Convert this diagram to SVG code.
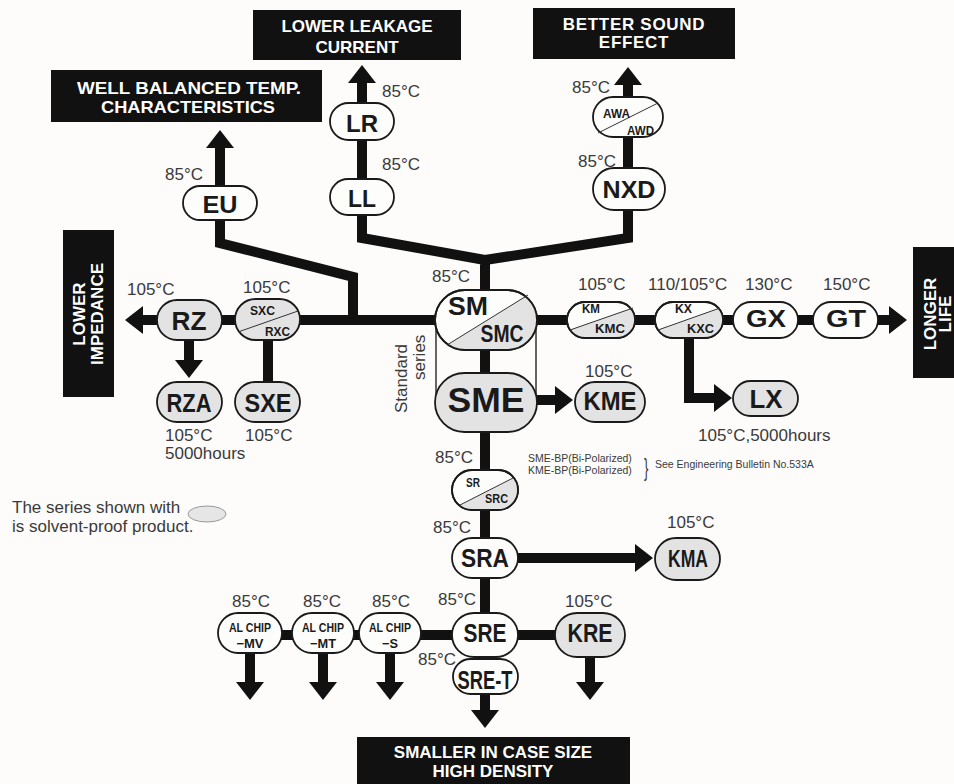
<svg xmlns="http://www.w3.org/2000/svg" width="954" height="784" viewBox="0 0 954 784">
<style>
.bg{fill:#fdfcfa}
.box{fill:#111}
.bt{font-family:"Liberation Sans",Arial,sans-serif;font-weight:bold;font-size:17px;fill:#fff;text-anchor:middle}
.n{fill:#fdfdfb;stroke:#1a1a1a;stroke-width:1.8}
.ng{fill:#e3e3e3;stroke:#1a1a1a;stroke-width:1.8}
.o{fill:none;stroke:#1a1a1a;stroke-width:1.8}
.g{fill:#e3e3e3}
.dg{stroke:#333;stroke-width:1}
.nl{font-family:"Liberation Sans",Arial,sans-serif;font-weight:bold;fill:#1a1a1a;text-anchor:middle}
.sl{font-family:"Liberation Sans",Arial,sans-serif;font-weight:bold;font-size:13px;fill:#1a1a1a}
.t{font-family:"Liberation Sans",Arial,sans-serif;font-size:17px;fill:#3a3a3a}
.s{font-family:"Liberation Sans",Arial,sans-serif;font-size:10.5px;fill:#3a3a3a}
.c{fill:none;stroke:#111;stroke-width:10}
.th{fill:none;stroke:#333;stroke-width:1.5}
</style>
<defs>
<marker id="ah" viewBox="0 0 18 28" markerWidth="18" markerHeight="28" refX="2" refY="14" orient="auto" markerUnits="userSpaceOnUse">
<path d="M0,0 L18,14 L0,28 z" fill="#111"/>
</marker>
<clipPath id="cp-sm"><rect x="435" y="290" width="102" height="60" rx="30"/></clipPath>
<clipPath id="cp-km"><rect x="567" y="302" width="68" height="36" rx="18"/></clipPath>
<clipPath id="cp-kx"><rect x="655" y="302" width="68" height="36" rx="18"/></clipPath>
<clipPath id="cp-sr"><rect x="452" y="470" width="66" height="40" rx="20"/></clipPath>
</defs>
<rect class="bg" x="0" y="0" width="954" height="784"/>

<g id="boxes">
<g id="box-temp"><rect class="box" x="51" y="70" width="271" height="52"/><text class="bt" x="189" y="94" textLength="224" lengthAdjust="spacingAndGlyphs">WELL BALANCED TEMP.</text><text class="bt" x="188" y="113" textLength="174" lengthAdjust="spacingAndGlyphs">CHARACTERISTICS</text></g>
<g id="box-leak"><rect class="box" x="253" y="10" width="208" height="50"/><text class="bt" x="357" y="32">LOWER LEAKAGE</text><text class="bt" x="357" y="53">CURRENT</text></g>
<g id="box-sound"><rect class="box" x="533" y="8" width="202" height="51"/><text class="bt" x="634" y="30" letter-spacing="0.7">BETTER SOUND</text><text class="bt" x="634" y="48" letter-spacing="0.7">EFFECT</text></g>
<g id="box-imp"><rect class="box" x="63" y="230" width="51" height="167"/><text class="bt" transform="translate(85,314) rotate(-90)">LOWER</text><text class="bt" transform="translate(103,314) rotate(-90)">IMPEDANCE</text></g>
<g id="box-life"><rect class="box" x="913" y="247" width="45" height="131"/><text class="bt" transform="translate(936,314) rotate(-90)">LONGER</text><text class="bt" transform="translate(951,314) rotate(-90)">LIFE</text></g>
<g id="box-small"><rect class="box" x="357" y="737" width="273" height="50"/><text class="bt" x="493" y="758">SMALLER IN CASE SIZE</text><text class="bt" x="493" y="777">HIGH DENSITY</text></g>
</g>

<g id="connectors">
<path class="c" d="M350,320 H141" marker-end="url(#ah)"/>
<path class="c" d="M350,320 H891" marker-end="url(#ah)"/>
<path class="c" d="M220,186 V146" marker-end="url(#ah)"/>
<path class="c" d="M220,220 V243 L353,277 V320"/>
<path class="c" d="M362,179 V81" marker-end="url(#ah)"/>
<path class="c" d="M362,215 V238 L485,260 V290"/>
<path class="c" d="M628,168 V83" marker-end="url(#ah)"/>
<path class="c" d="M628,210 V238 L485,260"/>
<path class="c" d="M189,340 V362" marker-end="url(#ah)"/>
<path class="c" d="M268,340 V382"/>
<path class="c" d="M485,350 V613"/>
<path class="c" d="M485,657 V712" marker-end="url(#ah)"/>
<path class="c" d="M537,400 H557" marker-end="url(#ah)"/>
<path class="c" d="M689,338 V398 H716" marker-end="url(#ah)"/>
<path class="c" d="M518,558 H637" marker-end="url(#ah)"/>
<path class="c" d="M250,635 H590"/>
<path class="c" d="M250,653 V684" marker-end="url(#ah)"/>
<path class="c" d="M323,653 V684" marker-end="url(#ah)"/>
<path class="c" d="M390,653 V684" marker-end="url(#ah)"/>
<path class="c" d="M590,657 V684" marker-end="url(#ah)"/>
<path class="th" d="M436,320 V402 M536,320 V402"/>
</g>

<g id="n-eu"><rect class="n" x="183" y="186" width="74" height="34" rx="17"/><text class="nl" x="220" y="213" font-size="24" textLength="35" lengthAdjust="spacingAndGlyphs">EU</text></g>
<g id="n-lr"><rect class="n" x="330" y="103" width="64" height="37" rx="18.5"/><text class="nl" x="362" y="132" font-size="24" textLength="32" lengthAdjust="spacingAndGlyphs">LR</text></g>
<g id="n-ll"><rect class="n" x="330" y="179" width="64" height="36" rx="18"/><text class="nl" x="362" y="207" font-size="24" textLength="28" lengthAdjust="spacingAndGlyphs">LL</text></g>
<g id="n-awa"><rect class="n" x="593" y="97" width="70" height="40" rx="20"/><line class="dg" x1="598" y1="133" x2="658" y2="103"/><text class="sl" x="603" y="118" textLength="27" lengthAdjust="spacingAndGlyphs">AWA</text><text class="sl" x="627" y="135" textLength="27" lengthAdjust="spacingAndGlyphs">AWD</text></g>
<g id="n-nxd"><rect class="n" x="593" y="168" width="72" height="42" rx="21"/><text class="nl" x="629" y="198" font-size="24" textLength="53" lengthAdjust="spacingAndGlyphs">NXD</text></g>
<g id="n-rz"><rect class="ng" x="157" y="300" width="65" height="40" rx="20"/><text class="nl" x="189" y="330" font-size="26" textLength="35" lengthAdjust="spacingAndGlyphs">RZ</text></g>
<g id="n-sxc"><rect class="ng" x="235" y="299" width="65" height="41" rx="20.5"/><line class="dg" x1="238" y1="332" x2="298" y2="311"/><text class="sl" x="250" y="315" textLength="25" lengthAdjust="spacingAndGlyphs">SXC</text><text class="sl" x="265" y="336" textLength="25" lengthAdjust="spacingAndGlyphs">RXC</text></g>
<g id="n-rza"><rect class="ng" x="157" y="382" width="65" height="40" rx="20"/><text class="nl" x="189" y="412" font-size="25" textLength="45" lengthAdjust="spacingAndGlyphs">RZA</text></g>
<g id="n-sxe"><rect class="ng" x="235" y="382" width="65" height="40" rx="20"/><text class="nl" x="268" y="412" font-size="25" textLength="47" lengthAdjust="spacingAndGlyphs">SXE</text></g>
<g id="n-sm"><rect class="n" x="435" y="290" width="102" height="60" rx="30"/><polygon class="g" clip-path="url(#cp-sm)" points="285,445 690,195 690,445"/><rect class="o" x="435" y="290" width="102" height="60" rx="30"/><line class="dg" x1="447" y1="345" x2="528" y2="295"/><text class="nl" x="468" y="315" font-size="25" textLength="40" lengthAdjust="spacingAndGlyphs">SM</text><text class="nl" x="502" y="342" font-size="23" textLength="43" lengthAdjust="spacingAndGlyphs">SMC</text></g>
<g id="n-sme"><rect class="ng" x="435" y="373" width="102" height="59" rx="29.5"/><text class="nl" x="486" y="412" font-size="35" textLength="77" lengthAdjust="spacingAndGlyphs">SME</text></g>
<g id="n-km"><rect class="n" x="567" y="302" width="68" height="36" rx="18"/><polygon class="g" clip-path="url(#cp-km)" points="444,374 759,264 759,374"/><rect class="o" x="567" y="302" width="68" height="36" rx="18"/><line class="dg" x1="570" y1="330" x2="633" y2="308"/><text class="sl" x="582" y="313" textLength="18" lengthAdjust="spacingAndGlyphs">KM</text><text class="sl" x="595" y="333" textLength="30" lengthAdjust="spacingAndGlyphs">KMC</text></g>
<g id="n-kx"><rect class="n" x="655" y="302" width="68" height="36" rx="18"/><polygon class="g" clip-path="url(#cp-kx)" points="534,374 844,264 844,374"/><rect class="o" x="655" y="302" width="68" height="36" rx="18"/><line class="dg" x1="658" y1="330" x2="720" y2="308"/><text class="sl" x="675" y="313" textLength="17" lengthAdjust="spacingAndGlyphs">KX</text><text class="sl" x="687" y="333" textLength="27" lengthAdjust="spacingAndGlyphs">KXC</text></g>
<g id="n-gx"><rect class="n" x="733" y="302" width="65" height="36" rx="18"/><text class="nl" x="766" y="327" font-size="24" textLength="40" lengthAdjust="spacingAndGlyphs">GX</text></g>
<g id="n-gt"><rect class="n" x="813" y="302" width="65" height="36" rx="18"/><text class="nl" x="846" y="327" font-size="24" textLength="40" lengthAdjust="spacingAndGlyphs">GT</text></g>
<g id="n-kme"><rect class="ng" x="575" y="382" width="70" height="40" rx="20"/><text class="nl" x="610" y="410" font-size="26" textLength="53" lengthAdjust="spacingAndGlyphs">KME</text></g>
<g id="n-lx"><rect class="ng" x="733" y="381" width="65" height="35" rx="17.5"/><text class="nl" x="766" y="408" font-size="26" textLength="33" lengthAdjust="spacingAndGlyphs">LX</text></g>
<g id="n-sr"><rect class="n" x="452" y="470" width="66" height="40" rx="20"/><polygon class="g" clip-path="url(#cp-sr)" points="354,559 619,424 619,559"/><rect class="o" x="452" y="470" width="66" height="40" rx="20"/><line class="dg" x1="460" y1="505" x2="513" y2="478"/><text class="sl" x="466" y="487" textLength="14" lengthAdjust="spacingAndGlyphs">SR</text><text class="sl" x="485" y="503" textLength="23" lengthAdjust="spacingAndGlyphs">SRC</text></g>
<g id="n-sra"><rect class="n" x="452" y="538" width="66" height="40" rx="20"/><text class="nl" x="485" y="567" font-size="25" textLength="48" lengthAdjust="spacingAndGlyphs">SRA</text></g>
<g id="n-kma"><rect class="ng" x="655" y="538" width="65" height="42" rx="21"/><text class="nl" x="688" y="567" font-size="23" textLength="40" lengthAdjust="spacingAndGlyphs">KMA</text></g>
<g id="n-almv"><rect class="n" x="218" y="613" width="64" height="40" rx="20"/><text class="nl" x="250" y="632" font-size="13" textLength="42" lengthAdjust="spacingAndGlyphs">AL CHIP</text><text class="nl" x="250" y="648" font-size="13" textLength="27" lengthAdjust="spacingAndGlyphs">−MV</text></g>
<g id="n-almt"><rect class="n" x="292" y="613" width="62" height="40" rx="20"/><text class="nl" x="323" y="632" font-size="13" textLength="42" lengthAdjust="spacingAndGlyphs">AL CHIP</text><text class="nl" x="323" y="648" font-size="13" textLength="26" lengthAdjust="spacingAndGlyphs">−MT</text></g>
<g id="n-als"><rect class="n" x="359" y="613" width="62" height="40" rx="20"/><text class="nl" x="390" y="632" font-size="13" textLength="42" lengthAdjust="spacingAndGlyphs">AL CHIP</text><text class="nl" x="390" y="648" font-size="13" textLength="16" lengthAdjust="spacingAndGlyphs">−S</text></g>
<g id="n-sre"><rect class="n" x="452" y="613" width="66" height="44" rx="22"/><text class="nl" x="485" y="642" font-size="25" textLength="43" lengthAdjust="spacingAndGlyphs">SRE</text></g>
<g id="n-kre"><rect class="ng" x="555" y="613" width="70" height="44" rx="22"/><text class="nl" x="590" y="642" font-size="25" textLength="45" lengthAdjust="spacingAndGlyphs">KRE</text></g>
<g id="n-sret"><rect class="n" x="453" y="659" width="65" height="35" rx="17.5"/><text class="nl" x="485" y="689" font-size="25" textLength="55" lengthAdjust="spacingAndGlyphs">SRE-T</text></g>

<g id="labels">
<text class="t" x="165" y="180">85°C</text>
<text class="t" x="382" y="97">85°C</text>
<text class="t" x="382" y="170">85°C</text>
<text class="t" x="572" y="93">85°C</text>
<text class="t" x="578" y="167">85°C</text>
<text class="t" x="127" y="295">105°C</text>
<text class="t" x="243" y="293">105°C</text>
<text class="t" x="432" y="282">85°C</text>
<text class="t" x="578" y="290">105°C</text>
<text class="t" x="648" y="290">110/105°C</text>
<text class="t" x="745" y="290">130°C</text>
<text class="t" x="823" y="290">150°C</text>
<text class="t" x="585" y="377">105°C</text>
<text class="t" x="698" y="441">105°C,5000hours</text>
<text class="t" x="165" y="441">105°C</text>
<text class="t" x="165" y="459">5000hours</text>
<text class="t" x="245" y="441">105°C</text>
<text class="t" transform="translate(407,413) rotate(-90)">Standard</text>
<text class="t" transform="translate(425,380) rotate(-90)">series</text>
<text class="t" x="435" y="463">85°C</text>
<text class="t" x="433" y="533">85°C</text>
<text class="t" x="667" y="528">105°C</text>
<text class="t" x="438" y="605">85°C</text>
<text class="t" x="565" y="607">105°C</text>
<text class="t" x="232" y="607">85°C</text>
<text class="t" x="303" y="607">85°C</text>
<text class="t" x="372" y="607">85°C</text>
<text class="t" x="418" y="665">85°C</text>
<text class="s" x="528" y="462">SME-BP(Bi-Polarized)</text>
<text class="s" x="528" y="474">KME-BP(Bi-Polarized)</text>
<text class="s" style="font-size:24px" transform="translate(644,476) scale(0.55,1)">}</text>
<text class="s" x="655" y="468">See Engineering Bulletin No.533A</text>
<text class="t" x="12" y="513">The series shown with</text>
<ellipse cx="207" cy="514" rx="19" ry="8" fill="#e6e6e6" stroke="#999" stroke-width="1"/>
<text class="t" x="12" y="532">is solvent-proof product.</text>
</g>
</svg>
